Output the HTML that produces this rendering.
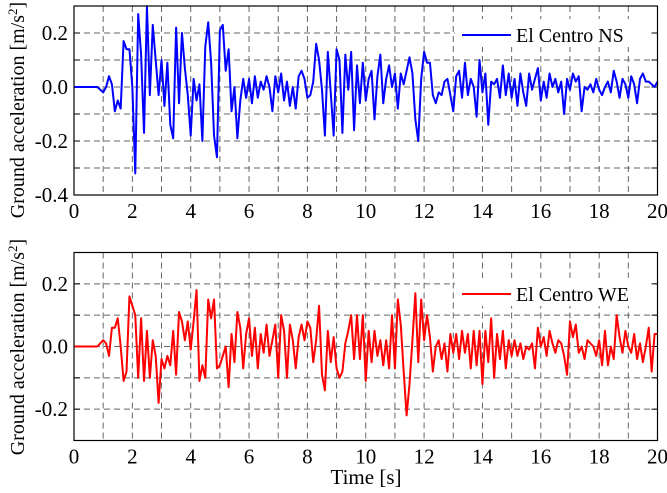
<!DOCTYPE html>
<html><head><meta charset="utf-8"><style>
html,body{margin:0;padding:0;background:#fff}
svg{display:block;font-family:"Liberation Serif",serif}
</style></head><body>
<svg id="chart" width="667" height="493" viewBox="0 0 667 493" xmlns="http://www.w3.org/2000/svg"></svg>
<script>
const dt = 0.1;
const xTicks = [0,2,4,6,8,10,12,14,16,18,20];
const yTicksNS = [0.2,0.0,-0.2,-0.4];
const yTicksWE = [0.2,0.0,-0.2];
const nsValues = [0,0,0,0,0,0,0,0,0,-0.01,-0.02,0.0,0.04,0.01,-0.09,-0.05,-0.08,0.17,0.14,0.14,
0.0,-0.32,0.27,0.12,-0.17,0.30,-0.03,0.23,0.10,-0.03,0.10,-0.07,0.09,-0.14,-0.19,0.22,-0.06,0.20,0.07,-0.03,
-0.18,0.03,-0.05,0.01,-0.20,0.15,0.24,0.09,-0.18,-0.26,0.21,0.23,0.06,0.14,-0.09,0.0,-0.19,-0.05,0.03,-0.04,
0.03,-0.06,0.04,-0.04,0.02,-0.01,0.04,0.0,-0.09,0.04,-0.02,0.05,-0.05,0.02,-0.07,0.0,-0.08,0.04,0.06,0.03,
-0.04,-0.03,0.02,0.16,0.10,-0.01,-0.18,0.13,-0.02,-0.18,0.14,0.10,-0.17,0.12,-0.01,0.13,-0.16,0.08,-0.06,0.09,
-0.05,0.03,0.06,-0.12,0.04,0.12,-0.06,0.03,0.08,0.0,0.05,-0.08,0.05,0.01,0.06,0.11,0.05,-0.12,-0.20,0.03,
0.13,0.09,0.09,-0.03,-0.06,-0.02,-0.03,0.02,0.03,-0.03,-0.09,0.04,0.06,-0.04,0.09,-0.03,0.03,0.0,-0.11,0.10,
-0.02,0.05,-0.14,0.02,0.01,0.03,-0.04,0.08,-0.03,0.05,-0.04,0.03,-0.07,0.05,-0.02,-0.07,0.05,-0.01,0.03,0.07,
-0.05,0.02,-0.04,0.05,0.0,0.03,-0.02,0.02,-0.10,0.03,-0.01,0.05,0.02,0.04,-0.09,0.0,-0.01,0.01,-0.02,0.03,
-0.01,-0.03,0.0,0.02,-0.02,0.06,0.02,-0.04,0.03,0.01,-0.04,0.04,0.01,-0.06,0.03,0.05,0.02,0.02,0.01,0.0,0.02];
const weValues = [0,0,0,0,0,0,0,0,0,0.01,0.02,0.01,-0.03,0.06,0.06,0.09,0.0,-0.11,-0.08,0.16,
0.13,0.10,-0.10,0.09,-0.11,0.05,-0.10,0.02,-0.03,-0.18,-0.04,-0.07,-0.03,-0.06,0.05,-0.09,0.11,0.08,0.02,0.08,
-0.01,0.08,0.18,-0.11,-0.06,-0.10,0.15,0.09,0.15,-0.07,-0.06,-0.03,0.0,-0.13,0.04,-0.05,0.11,0.06,-0.07,0.04,
0.09,-0.03,0.06,-0.07,0.04,-0.02,0.07,-0.03,0.02,0.07,-0.10,0.10,0.05,-0.10,0.07,0.02,-0.07,0.03,0.07,0.02,
0.08,0.06,-0.05,0.02,0.13,-0.09,-0.14,0.05,-0.05,0.03,-0.07,-0.10,-0.08,0.01,0.05,0.10,-0.04,0.10,-0.04,0.10,
-0.11,0.05,-0.05,0.05,-0.03,0.02,-0.06,0.02,-0.07,0.10,-0.07,0.15,0.07,-0.08,-0.22,-0.12,0.02,0.17,-0.05,0.15,
0.02,0.10,0.03,-0.08,0.0,0.02,-0.04,0.01,-0.08,0.04,-0.02,0.04,-0.04,0.05,-0.02,0.04,-0.07,0.05,-0.06,0.05,
-0.12,0.05,-0.05,0.09,-0.10,0.04,-0.04,0.05,-0.07,0.02,-0.03,0.02,-0.03,0.01,-0.04,0.0,-0.01,0.01,-0.07,0.06,
0.0,0.03,-0.03,0.05,0.01,-0.02,0.02,0.01,-0.03,-0.09,0.08,0.03,0.07,-0.02,0.0,-0.04,0.02,0.01,0.0,-0.03,
0.02,-0.06,0.05,-0.06,0.0,-0.04,0.10,0.03,-0.02,0.05,0.0,-0.02,0.04,-0.04,0.01,-0.05,0.0,0.06,-0.08,0.04,0.04];

const NS = "http://www.w3.org/2000/svg";
const svg = document.getElementById('chart');
function mk(tag, attrs, parent){const e=document.createElementNS(NS,tag);for(const k in attrs)e.setAttribute(k,attrs[k]);(parent||svg).appendChild(e);return e;}

function panel(cfg){
  const {x0,x1,y0,y1,vmin,vmax,values,color,yTicks,name,legend,legY,ylabel,ylabelY} = cfg;
  const g = mk('g',{});
  
  
  const xs = t => x0 + (t/20)*(x1-x0);
  const ys = v => y0 + (vmax - v)/(vmax - vmin)*(y1-y0);
  for(let t=1;t<20;t++){
    const l=mk('line',{x1:xs(t),x2:xs(t),y1:y0,y2:y1,stroke:'#666','stroke-width':1,'stroke-dasharray':'6,4'},g);
    
    
  }
  for(let k=Math.round(vmin*10)+1;k<Math.round(vmax*10);k++){
    const v=k/10;
    const l=mk('line',{x1:x0,x2:x1,y1:ys(v),y2:ys(v),stroke:'#666','stroke-width':1,'stroke-dasharray':'6,4'},g);
    
    
    mk('line',{x1:x0,x2:x0+6,y1:ys(v),y2:ys(v),stroke:'#000'},g);
    mk('line',{x1:x1-6,x2:x1,y1:ys(v),y2:ys(v),stroke:'#000'},g);
  }
  const lb=mk('rect',{x:455,y:legY-16,width:195,height:28,fill:'#fff'},g);
  
  
  const pts = values.map((v,i)=>xs(Math.min(i*dt,20)).toFixed(2)+','+ys(v).toFixed(2)).join(' ');
  const pl=mk('polyline',{points:pts,fill:'none',stroke:color,'stroke-width':2,'stroke-linejoin':'round'},g);
  
  
  const fr=mk('rect',{x:x0,y:y0,width:x1-x0,height:y1-y0,fill:'none',stroke:'#000','stroke-width':1.2},g);
  
  
  const ll=mk('line',{x1:462,x2:511,y1:legY,y2:legY,stroke:color,'stroke-width':2},g);
  
  
  const lt=mk('text',{x:516,y:legY+7,'font-size':20,fill:'#000'},g);
  lt.textContent=legend;
  
  
  xTicks.forEach(t=>{
    const tx=mk('text',{x:xs(t),y:y1+23,'font-size':21,'text-anchor':'middle'},g);
    tx.textContent=String(t);
    
    
  });
  yTicks.forEach(v=>{
    const tx=mk('text',{x:x0-6,y:ys(v)+7,'font-size':21,'text-anchor':'end'},g);
    tx.textContent=v.toFixed(1);
    
    
  });
  const yl=mk('text',{x:0,y:0,'font-size':20,'text-anchor':'middle',transform:`translate(24,${ylabelY}) rotate(-90)`},g);
  yl.innerHTML=ylabel;
  
  
}

panel({x0:74,x1:657.5,y0:6,y1:195,vmin:-0.4,vmax:0.3,values:nsValues,color:'#0000ff',yTicks:yTicksNS,name:'ns-panel',legend:'El Centro NS',legY:35,ylabel:'Ground acceleration  [m/s<tspan dy="-7" font-size="13">2</tspan><tspan dy="7">]</tspan>',ylabelY:110});
panel({x0:74,x1:657.5,y0:252.5,y1:440.5,vmin:-0.3,vmax:0.3,values:weValues,color:'#ff0000',yTicks:yTicksWE,name:'we-panel',legend:'El Centro WE',legY:294,ylabel:'Ground acceleration [m/s<tspan dy="-7" font-size="13">2</tspan><tspan dy="7">]</tspan>',ylabelY:347});

const xt=mk('text',{x:366,y:484,'font-size':21,'text-anchor':'middle'});
xt.textContent='Time [s]';


</script>
</body></html>
